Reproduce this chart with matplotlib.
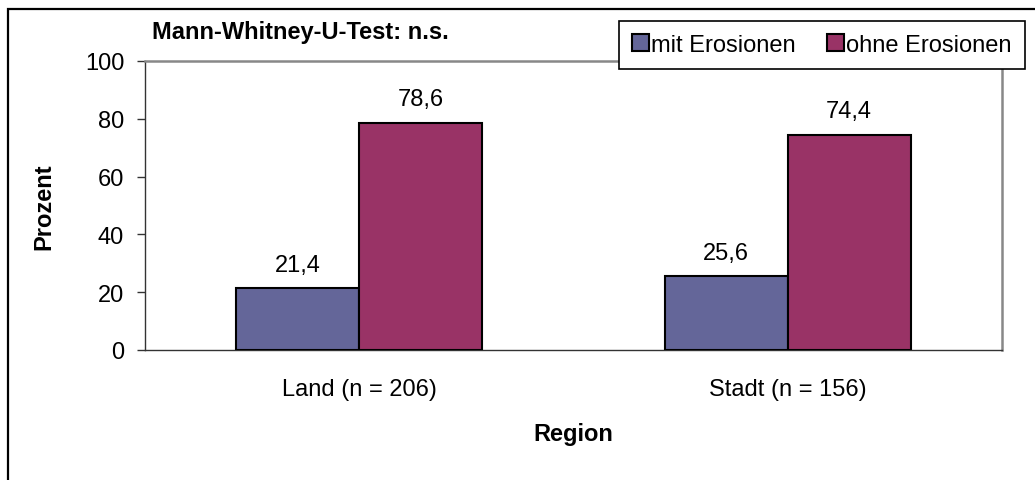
import numpy as np
import matplotlib.pyplot as plt
from matplotlib.patches import Rectangle

# data
regions = ["Land (n = 206)", "Stadt (n = 156)"]
series_names = ["mit Erosionen", "ohne Erosionen"]
mit_erosionen = [21.4, 25.6]
ohne_erosionen = [78.6, 74.4]
y_ticks = [0, 20, 40, 60, 80, 100]

COLORS = ["#646699", "#993366"]

plt.rcParams["font.family"] = ["Liberation Sans", "DejaVu Sans"]
FS = 17

W, H = 1035, 481
fig = plt.figure(figsize=(W / 100, H / 100), dpi=100)
ax = fig.add_axes([145 / W, 1 - 351 / H, (1002 - 145) / W, (351 - 62) / H])

x = np.arange(len(regions))
bw = 0.287
for i, (vals, name) in enumerate(zip([mit_erosionen, ohne_erosionen], series_names)):
    offs = (i - 0.5) * bw
    bars = ax.bar(x + offs, vals, width=bw, color=COLORS[i], edgecolor="black",
                  linewidth=1.5, label=name, zorder=3)
    for b, v in zip(bars, vals):
        ax.annotate(f"{v:.1f}".replace(".", ","),
                    (b.get_x() + b.get_width() / 2, v),
                    xytext=(0, 9), textcoords="offset points",
                    ha="center", va="bottom", fontsize=FS)

ax.set_xlim(-0.5, len(regions) - 0.5)
ax.set_ylim(0, 100)
ax.set_yticks(y_ticks)
ax.set_yticklabels([str(t) for t in y_ticks], fontsize=FS)
ax.set_xticks(x)
ax.set_xticklabels(regions, fontsize=FS)
ax.tick_params(axis="x", length=0, pad=20)
ax.tick_params(axis="y", length=6, width=1, color="#333333", pad=9)

for side in ["top", "right"]:
    ax.spines[side].set_color("#888888")
    ax.spines[side].set_linewidth(1.8)
for side in ["left", "bottom"]:
    ax.spines[side].set_color("#333333")
    ax.spines[side].set_linewidth(1.0)

ax.set_ylabel("Prozent", fontsize=FS, fontweight="bold")
ax.yaxis.set_label_coords(-0.104, 0.5)
ax.set_xlabel("Region", fontsize=FS, fontweight="bold")
ax.xaxis.set_label_coords(0.5, -0.25)

fig.text(152 / W, 1 - 33 / H, "Mann-Whitney-U-Test: n.s.", fontsize=FS,
         fontweight="bold", ha="left", va="center")

leg = fig.legend(loc="upper left", bbox_to_anchor=(619 / W, 1 - 22 / H), ncol=2,
                 fontsize=FS, frameon=True, fancybox=False, framealpha=1,
                 edgecolor="black", handlelength=0.7, handleheight=0.7,
                 handletextpad=0.1, columnspacing=1.35, borderpad=0.55,
                 borderaxespad=0)
leg.get_frame().set_linewidth(1.2)

# outer chart border (cut off by the image edges)
fig.patches.append(Rectangle((8 / W, -0.1), 1.2, 1 - 10 / H + 0.1,
                             transform=fig.transFigure, fill=False,
                             edgecolor="black", linewidth=1.6))

fig.savefig("out.png", dpi=100)
